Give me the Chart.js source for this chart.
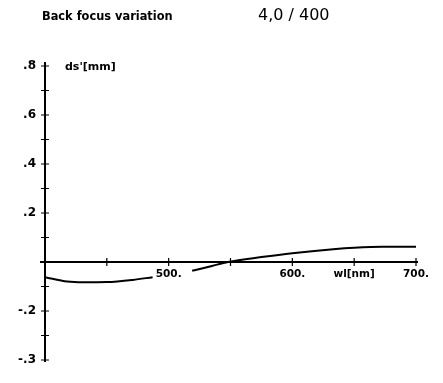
<!DOCTYPE html>
<html>
<head>
<meta charset="utf-8">
<script src="https://cdn.jsdelivr.net/npm/chart.js@4"></script>
<style>
html,body{margin:0;padding:0;background:#fff;}
#wrap{position:relative;width:443px;height:383px;}
</style>
</head>
<body>
<div id="wrap"><canvas id="c" width="443" height="383"></canvas></div>
<script>
// ---- data ----
const titleText = "Back focus variation";
const lensText = "4,0 / 400";
const yAxisName = "ds'[mm]";
const wavelengths = [400, 418, 431, 450, 471, 487, 503, 519, 535, 548, 575, 600, 633, 650, 673, 700];
const backFocus   = [-0.062, -0.080, -0.083, -0.082, -0.073, -0.062, null, -0.036, -0.016, 0.000, 0.020, 0.036, 0.052, 0.058, 0.062, 0.062];
const xTickValues = [500, 600, 650, 700];
const xTickText   = ["500.", "600.", "wl[nm]", "700."];
const yTickValues = [0.8, 0.6, 0.4, 0.2, -0.2, -0.4];
const yTickText   = [".8", ".6", ".4", ".2", "-.2", "-.3"];

const points = wavelengths.map((w, i) => ({x: w, y: backFocus[i]}));

const FONT = "DejaVu Sans";

const decor = {
  id: 'decor',
  afterDraw(chart) {
    const ctx = chart.ctx;
    const xs = chart.scales.x, ys = chart.scales.y;
    const x0 = xs.getPixelForValue(400), y0 = ys.getPixelForValue(0);
    ctx.save();
    ctx.strokeStyle = '#000';
    ctx.lineWidth = 2;
    // axes
    ctx.beginPath();
    ctx.moveTo(x0 - 5, y0); ctx.lineTo(xs.getPixelForValue(700) + 2, y0);
    ctx.moveTo(x0, ys.getPixelForValue(0.8) - 4); ctx.lineTo(x0, ys.getPixelForValue(-0.4) + 2);
    ctx.stroke();
    ctx.lineWidth = 1.2;
    ctx.beginPath();
    for (let v = 450; v <= 700; v += 50) {
      const px = xs.getPixelForValue(v);
      ctx.moveTo(px, y0 - 4); ctx.lineTo(px, y0 + 4);
    }
    for (let k = -4; k <= 8; k++) {
      if (k === 0) continue;
      const py = ys.getPixelForValue(k / 10);
      ctx.moveTo(x0 - 4, py); ctx.lineTo(x0 + 4, py);
    }
    ctx.stroke();
    // texts
    ctx.fillStyle = '#000';
    ctx.textBaseline = 'middle';
    ctx.textAlign = 'left';
    ctx.font = "bold 11.4px '" + FONT + "'";
    ctx.fillText(titleText, 42, 17);
    ctx.font = "16px '" + FONT + "'";
    ctx.fillText(lensText, 258, 16);
    ctx.font = "bold 11px '" + FONT + "'";
    ctx.fillText(yAxisName, 65, ys.getPixelForValue(0.8) + 1);
    ctx.restore();
  }
};

new Chart(document.getElementById('c'), {
  type: 'line',
  data: {
    datasets: [{
      data: points,
      borderColor: '#000',
      borderWidth: 2,
      pointRadius: 0,
      tension: 0.4,
      cubicInterpolationMode: 'monotone',
      spanGaps: false,
      fill: false
    }]
  },
  options: {
    responsive: false,
    animation: false,
    layout: {padding: {left: 0, right: 27, top: 66, bottom: 23}},
    plugins: {legend: {display: false}, tooltip: {enabled: false}, title: {display: false}},
    scales: {
      x: {
        type: 'linear',
        min: 400, max: 700,
        position: {y: 0},
        grid: {display: false, drawTicks: false},
        border: {display: false},
        afterBuildTicks(scale) { scale.ticks = xTickValues.map(v => ({value: v})); },
        ticks: {
          autoSkip: false,
          maxRotation: 0,
          padding: 6,
          color: '#000',
          font: {family: FONT, size: 10.5, weight: 'bold'},
          callback(v) { const i = xTickValues.indexOf(v); return i >= 0 ? xTickText[i] : ''; }
        }
      },
      y: {
        type: 'linear',
        min: -0.4, max: 0.8,
        position: 'left',
        grid: {display: false, drawTicks: false},
        border: {display: false},
        afterFit(scale) { scale.width = 45; },
        afterBuildTicks(scale) { scale.ticks = yTickValues.map(v => ({value: v})); },
        ticks: {
          autoSkip: false,
          padding: 9,
          color: '#000',
          font: {family: FONT, size: 12, weight: 'bold'},
          callback(v) { const i = yTickValues.findIndex(t => Math.abs(t - v) < 1e-6); return i >= 0 ? yTickText[i] : ''; }
        }
      }
    }
  },
  plugins: [decor]
});
</script>
</body>
</html>
